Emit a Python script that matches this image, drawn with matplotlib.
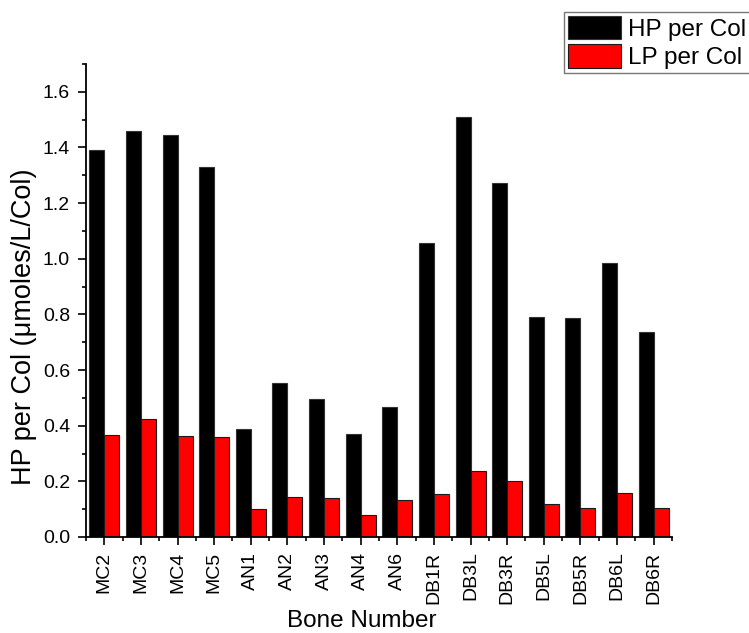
import matplotlib
matplotlib.use("Agg")
import matplotlib.pyplot as plt
import numpy as np
from matplotlib.ticker import MultipleLocator, FixedLocator

plt.rcParams['font.family'] = ['Liberation Sans', 'DejaVu Sans']

# data
bones = ['MC2', 'MC3', 'MC4', 'MC5', 'AN1', 'AN2', 'AN3', 'AN4', 'AN6',
         'DB1R', 'DB3L', 'DB3R', 'DB5L', 'DB5R', 'DB6L', 'DB6R']
hp_per_col = [1.390, 1.459, 1.446, 1.331, 0.387, 0.554, 0.495, 0.369, 0.467,
              1.055, 1.510, 1.274, 0.789, 0.788, 0.985, 0.736]
lp_per_col = [0.367, 0.425, 0.363, 0.358, 0.101, 0.145, 0.140, 0.078, 0.133,
              0.155, 0.238, 0.201, 0.119, 0.105, 0.159, 0.104]

fig = plt.figure(figsize=(7.49, 6.33), dpi=100)
ax = fig.add_axes([0.1148, 0.1517, 0.7824, 0.7472])

x = np.arange(len(bones))
w = 0.41
ax.bar(x - w/2, hp_per_col, w, color='black', edgecolor='#333333', linewidth=0.8,
       label='HP per Col')
ax.bar(x + w/2, lp_per_col, w, color='#ff0000', edgecolor='#1a1a1a', linewidth=0.8,
       label='LP per Col')

ax.set_xlim(-0.5, len(bones) - 0.5)
ax.set_ylim(0, 1.7)

ax.spines['top'].set_visible(False)
ax.spines['right'].set_visible(False)
ax.spines['left'].set_linewidth(1.3)
ax.spines['bottom'].set_linewidth(1.3)

ax.set_xticks(x)
ax.set_xticklabels(bones, rotation=90, fontsize=14)
ax.xaxis.set_minor_locator(FixedLocator(np.arange(-0.5, len(bones), 1.0)))
ax.yaxis.set_major_locator(FixedLocator(np.arange(0, 1.61, 0.2)))
ax.yaxis.set_minor_locator(MultipleLocator(0.1))
ax.set_yticklabels([f'{v:.1f}' for v in np.arange(0, 1.61, 0.2)], fontsize=14)

ax.tick_params(axis='both', which='major', direction='out', length=5.5, width=1.2)
ax.tick_params(axis='both', which='minor', direction='out', length=3, width=1.2)
ax.tick_params(axis='y', which='major', pad=6)
ax.tick_params(axis='x', which='major', pad=5)

ax.set_xlabel('Bone Number', fontsize=17.5)
ax.xaxis.set_label_coords(0.471, -0.154)
ax.set_ylabel('HP per Col (μmoles/L/Col)', fontsize=19.5)
ax.yaxis.set_label_coords(-0.084, 0.445)

leg = fig.legend(loc='upper left', bbox_to_anchor=(0.753, 0.981), fontsize=17.5,
                 handlelength=2.2, handleheight=1.1, handletextpad=0.3,
                 labelspacing=0.16, borderpad=0.15, borderaxespad=0,
                 fancybox=False, frameon=True)
leg.get_frame().set_edgecolor('#555555')
leg.get_frame().set_linewidth(1.0)

fig.savefig('out.png', dpi=100)
